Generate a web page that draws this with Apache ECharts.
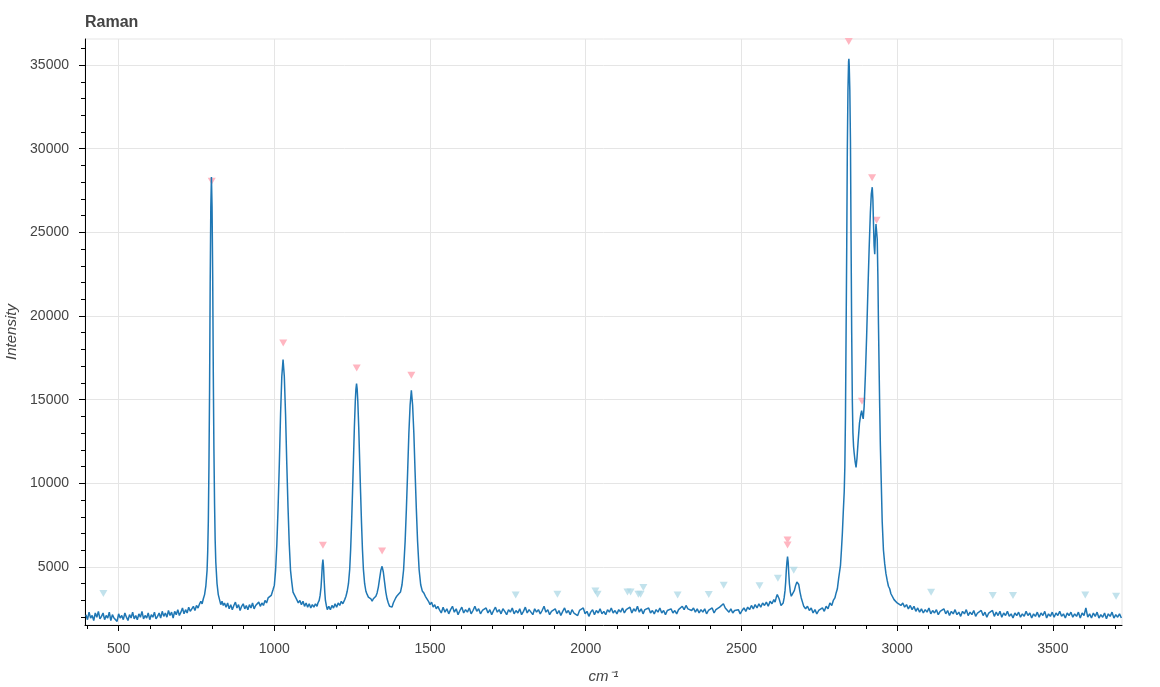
<!DOCTYPE html>
<html>
<head>
<meta charset="utf-8">
<script src="https://cdn.jsdelivr.net/npm/echarts@6/dist/echarts.min.js"></script>
<style>
html,body{margin:0;padding:0;background:#fff;}
#chart{width:1160px;height:687px;}
</style>
</head>
<body>
<div id="chart"></div>
<script>
// ---- Spectrum (wavenumber cm-1, intensity) ----
const baseline395to760 = [[395,2150],[400,1850],[405,2300],[410,1950],[415,2100],[420,1800],[425,2250],[430,2000],[435,2350],[440,1900],[445,2050],[450,2250],[455,1850],[460,2100],[465,1950],[470,2300],[475,1800],[480,2150],[485,1950],[490,2050],[495,1750],[500,2200],[505,1950],[510,2100],[515,1850],[520,2250],[525,2000],[530,1800],[535,2150],[540,1950],[545,2300],[550,1900],[555,2100],[560,1850],[565,2200],[570,2000],[575,2350],[580,1900],[585,2100],[590,1950],[595,2250],[600,1850],[605,2150],[610,2000],[615,2300],[620,1900],[625,2050],[630,2250],[635,1950],[640,2350],[645,2050],[650,2250],[655,2000],[660,2400],[665,2100],[670,2300],[675,1950],[680,2350],[685,2150],[690,2450],[695,2100],[700,2300],[705,2550],[710,2200],[715,2450],[720,2250],[725,2600],[730,2350],[735,2500],[740,2650],[745,2400],[750,2700],[755,2550],[760,2800]];
const peak800 = [[764,2950],[768,2800],[772,3100],[776,3350],[780,3850],[784,4800],[786,5900],[788,7700],[790,11000],[792,15500],[794,22000],[796,26500],[798,28300],[800,26500],[802,22500],[804,16500],[806,12000],[808,8800],[810,6600],[812,5300],[816,4000],[820,3350],[824,3050],[828,2750],[832,2950],[836,2700],[840,2850]];
const baseline845to990 = [[845,2600],[850,2850],[855,2500],[860,2750],[865,2450],[870,2700],[875,2900],[880,2550],[885,2750],[890,2400],[895,2650],[900,2800],[905,2500],[910,2700],[915,2450],[920,2750],[925,2550],[930,2850],[935,2500],[940,2700],[945,2600],[950,2900],[955,2650],[960,2850],[965,2700],[970,3000],[975,2850],[980,3150],[985,3050],[990,3300]];
const peak1028 = [[992,3300],[996,3650],[1000,3900],[1004,4800],[1008,6330],[1012,8520],[1016,11150],[1020,14140],[1024,16400],[1028,17400],[1032,16400],[1036,14140],[1040,11150],[1044,8520],[1048,6330],[1052,4800],[1056,4100],[1060,3500],[1064,3450],[1068,3200]];
const baseline1072to1137 = [[1072,3050],[1077,2850],[1082,3000],[1087,2750],[1092,2950],[1097,2650],[1102,2850],[1107,2600],[1112,2800],[1117,2550],[1122,2750],[1127,2600],[1132,2800],[1137,2650]];
const peak1156 = [[1140,2850],[1144,3000],[1147,3300],[1150,3800],[1152,4400],[1154,5100],[1156,5440],[1158,5000],[1160,4200],[1162,3500],[1164,3000],[1167,2700],[1170,2450]];
const baseline1175to1226 = [[1175,2650],[1180,2450],[1185,2700],[1190,2550],[1195,2800],[1200,2600],[1205,2850],[1210,2700],[1215,2950],[1220,2800],[1226,3050]];
const peak1264 = [[1230,3250],[1234,3550],[1238,4000],[1242,4860],[1245,6030],[1248,7600],[1251,9430],[1254,11350],[1257,13350],[1260,14920],[1262,15630],[1264,15960],[1266,15630],[1268,14920],[1271,13350],[1274,11350],[1277,9430],[1280,7600],[1283,6030],[1286,4860],[1290,4000],[1294,3550],[1298,3360],[1302,3200],[1306,3100],[1310,3100]];
const peak1346 = [[1314,2950],[1318,3100],[1322,3000],[1326,3250],[1330,3450],[1334,3800],[1338,4300],[1342,4800],[1346,5040],[1350,4700],[1354,4100],[1358,3500],[1362,3100],[1366,2850],[1370,2650],[1374,2750],[1378,2600],[1382,2850],[1386,2950]];
const peak1440 = [[1390,3160],[1395,3300],[1400,3380],[1405,3500],[1410,3940],[1415,4820],[1420,6520],[1424,8460],[1428,10660],[1432,12990],[1436,14680],[1440,15560],[1444,14680],[1448,12990],[1452,10660],[1456,8460],[1460,6520],[1465,4820],[1470,3940],[1475,3570],[1480,3450],[1485,3250],[1490,3100]];
const baseline1495to2100 = [[1495,2950],[1500,2750],[1505,2900],[1510,2600],[1515,2750],[1520,2500],[1525,2650],[1530,2450],[1536,2250],[1542,2600],[1548,2300],[1554,2500],[1560,2200],[1566,2450],[1572,2650],[1578,2300],[1584,2500],[1590,2150],[1596,2400],[1602,2600],[1608,2250],[1614,2450],[1620,2300],[1626,2550],[1632,2200],[1638,2400],[1644,2650],[1650,2350],[1656,2500],[1662,2200],[1668,2400],[1674,2300],[1680,2550],[1686,2250],[1692,2450],[1698,2150],[1704,2400],[1710,2600],[1716,2300],[1722,2450],[1728,2200],[1734,2500],[1740,2350],[1746,2150],[1752,2450],[1758,2300],[1764,2550],[1770,2200],[1776,2400],[1782,2250],[1788,2500],[1794,2150],[1800,2350],[1806,2600],[1812,2250],[1818,2450],[1824,2300],[1830,2150],[1836,2500],[1842,2300],[1848,2450],[1854,2200],[1860,2400],[1866,2650],[1872,2300],[1878,2450],[1884,2150],[1890,2350],[1896,2250],[1902,2500],[1908,2200],[1914,2400],[1920,2100],[1926,2350],[1932,2550],[1938,2250],[1944,2400],[1950,2150],[1956,2450],[1962,2250],[1968,2350],[1974,2100],[1980,2400],[1986,2300],[1992,2550],[1998,2200],[2004,2350],[2010,2050],[2016,2300],[2022,2450],[2028,2150],[2034,2400],[2040,2250],[2046,2500],[2052,2200],[2058,2350],[2064,2150],[2070,2450],[2076,2300],[2082,2550],[2088,2250],[2094,2400],[2100,2200]];
const baseline2106to2604 = [[2106,2450],[2112,2300],[2118,2550],[2124,2250],[2130,2450],[2136,2350],[2142,2600],[2148,2250],[2154,2500],[2160,2350],[2166,2650],[2172,2300],[2178,2500],[2184,2200],[2190,2450],[2196,2350],[2202,2550],[2208,2250],[2214,2400],[2220,2200],[2226,2450],[2232,2300],[2238,2550],[2244,2250],[2250,2400],[2256,2150],[2262,2400],[2268,2300],[2274,2500],[2280,2250],[2286,2400],[2292,2200],[2298,2450],[2304,2350],[2310,2650],[2316,2450],[2322,2700],[2328,2500],[2334,2600],[2340,2400],[2346,2550],[2352,2300],[2358,2500],[2364,2250],[2370,2450],[2376,2300],[2382,2500],[2388,2200],[2394,2400],[2400,2300],[2406,2550],[2412,2250],[2418,2450],[2424,2350],[2430,2600],[2436,2500],[2442,2800],[2448,2550],[2454,2450],[2460,2300],[2466,2500],[2472,2250],[2478,2400],[2484,2300],[2490,2450],[2496,2200],[2502,2400],[2508,2550],[2514,2350],[2520,2600],[2526,2450],[2532,2700],[2538,2500],[2544,2750],[2550,2550],[2556,2800],[2562,2600],[2568,2850],[2574,2700],[2580,2900],[2586,2650],[2592,2950],[2598,2800],[2604,3050]];
const peaks2648 = [[2608,2900],[2612,3200],[2615,3350],[2618,3400],[2621,3100],[2624,2900],[2627,2700],[2631,2600],[2634,2850],[2637,3150],[2640,3600],[2642,4100],[2644,4800],[2646,5300],[2648,5620],[2650,5300],[2652,4600],[2654,4000],[2657,3500],[2660,3250],[2663,3150],[2666,3350],[2670,3600],[2674,3900],[2678,4100],[2681,4200],[2684,3950],[2688,3500],[2692,3150],[2696,2900],[2700,2650],[2706,2500],[2712,2650],[2718,2400],[2724,2550],[2730,2250],[2736,2450],[2742,2200],[2748,2400],[2754,2300],[2760,2550],[2766,2350],[2772,2650],[2778,2500],[2784,2850],[2790,2700],[2795,3000]];
const peaksCH = [[2800,3150],[2804,3450],[2808,3700],[2812,4300],[2815,4700],[2818,5100],[2821,6000],[2824,7000],[2827,8300],[2830,9500],[2832,11000],[2834,14000],[2836,19000],[2838,24000],[2840,30000],[2842,33500],[2844,35200],[2845,35370],[2846,35000],[2848,33500],[2850,30500],[2852,24500],[2854,19000],[2856,15000],[2858,13000],[2860,12200],[2862,11800],[2865,11300],[2868,10950],[2871,11500],[2875,12600],[2879,13600],[2883,14100],[2886,14350],[2889,14000],[2891,13850],[2894,14600],[2898,16500],[2902,18800],[2906,21500],[2910,24000],[2914,26200],[2917,27300],[2920,27700],[2922,27000],[2924,25500],[2926,24200],[2928,23700],[2930,24800],[2932,25500],[2934,25600],[2936,24600],[2938,22500],[2940,19500],[2942,16900],[2944,14500],[2946,12300],[2949,10000],[2952,7700],[2956,6000],[2960,5200],[2964,4600],[2968,4200],[2972,3850],[2976,3700],[2980,3400],[2985,3300],[2990,3050],[2995,3100],[3000,2850]];
const baseline3006to3720 = [[3006,2950],[3012,2700],[3018,2850],[3024,2600],[3030,2750],[3036,2500],[3042,2700],[3048,2450],[3054,2650],[3060,2350],[3066,2550],[3072,2300],[3078,2500],[3084,2250],[3090,2450],[3096,2300],[3102,2550],[3108,2200],[3114,2400],[3120,2250],[3126,2450],[3132,2150],[3138,2350],[3144,2250],[3150,2500],[3156,2200],[3162,2400],[3168,2100],[3174,2350],[3180,2200],[3186,2450],[3192,2150],[3198,2300],[3204,2050],[3210,2350],[3216,2200],[3222,2450],[3228,2100],[3234,2300],[3240,2150],[3246,2400],[3252,2050],[3258,2250],[3264,2150],[3270,2400],[3276,2100],[3282,2300],[3288,2000],[3294,2250],[3300,2150],[3306,2400],[3312,2050],[3318,2300],[3324,2100],[3330,2350],[3336,2000],[3342,2250],[3348,2100],[3354,2350],[3360,2050],[3366,2200],[3372,1950],[3378,2250],[3384,2100],[3390,2300],[3396,2000],[3402,2200],[3408,2050],[3414,2350],[3420,2100],[3426,2250],[3432,1950],[3438,2200],[3444,2050],[3450,2300],[3456,2000],[3462,2250],[3468,2100],[3474,2350],[3480,1950],[3486,2200],[3492,2050],[3498,2300],[3504,2000],[3510,2250],[3516,2100],[3522,2350],[3528,2050],[3534,2200],[3540,1950],[3546,2250],[3552,2100],[3558,2300],[3564,2000],[3570,2200],[3576,2050],[3582,2300],[3588,1950],[3594,2250],[3600,2100],[3606,2550],[3612,2000],[3618,2200],[3624,1950],[3630,2250],[3636,2050],[3642,2300],[3648,1950],[3654,2150],[3660,2000],[3666,2250],[3672,1900],[3678,2200],[3684,2050],[3690,2300],[3696,1950],[3702,2150],[3708,2000],[3714,2200],[3720,1950]];

// ---- Marked peaks (pink) and other candidates (light blue) ----
const detectedPeaks = [[799,28050],[1028.6,18390],[1156,6300],[1264.5,16900],[1346,5960],[1440,16460],[2648,6620],[2648,6310],[2844.6,36410],[2887,14900],[2919.5,28270],[2934,25720]];
const candidatePeaks = [[451,3410],[1775,3326],[1909,3368],[2031,3565],[2038,3368],[2134,3506],[2144,3506],[2169,3368],[2176,3368],[2185,3769],[2295,3326],[2395,3360],[2443,3910],[2558,3880],[2617,4320],[2668,4810],[3109,3488],[3307,3290],[3372,3290],[3604,3326],[3703,3249]];

// ---- Tick labels ----
const xMajorTicks = [500,1000,1500,2000,2500,3000,3500];
const xMinorTicks = [400,500,600,700,800,900,1000,1100,1200,1300,1400,1500,1600,1700,1800,1900,2000,2100,2200,2300,2400,2500,2600,2700,2800,2900,3000,3100,3200,3300,3400,3500,3600,3700];
const yMajorTicks = [5000,10000,15000,20000,25000,30000,35000];
const yMinorTicks = [2000,3000,4000,5000,6000,7000,8000,9000,10000,11000,12000,13000,14000,15000,16000,17000,18000,19000,20000,21000,22000,23000,24000,25000,26000,27000,28000,29000,30000,31000,32000,33000,34000,35000,36000];

const spectrum = [].concat(baseline395to760, peak800, baseline845to990, peak1028, baseline1072to1137, peak1156, baseline1175to1226, peak1264, peak1346, peak1440, baseline1495to2100, baseline2106to2604, peaks2648, peaksCH, baseline3006to3720);

const FONT = '"Liberation Sans", Helvetica, Arial, sans-serif';
const X_MIN = 392, X_MAX = 3722, Y_MIN = 1533, Y_MAX = 36556;

const chart = echarts.init(document.getElementById('chart'), null, {renderer: 'canvas'});
chart.setOption({
  animation: false,
  backgroundColor: '#ffffff',
  title: {
    text: 'Raman', left: 85, top: 15, padding: 0,
    textStyle: {fontFamily: FONT, fontSize: 16, fontWeight: 'bold', color: '#444444'}
  },
  grid: {left: 85, right: 38, top: 39, bottom: 62, containLabel: false, outerBoundsMode: 'none',
         show: true, borderColor: '#e5e5e5', borderWidth: 1},
  xAxis: [
    {
      type: 'value', min: X_MIN, max: X_MAX, position: 'bottom',
      name: 'cm\u207B\u00B9', nameLocation: 'middle', nameGap: 44,
      nameTextStyle: {fontFamily: FONT, fontSize: 15, fontStyle: 'italic', color: '#444444'},
      axisLine: {show: true, lineStyle: {color: '#000000', width: 1}},
      axisTick: {show: true, customValues: xMinorTicks, length: 4, lineStyle: {color: '#000000', width: 1}},
      axisLabel: {show: true, customValues: xMajorTicks, margin: 17, fontFamily: FONT, fontSize: 14, color: '#444444', formatter: v => String(v)},
      splitLine: {show: false}
    },
    {
      type: 'value', min: X_MIN, max: X_MAX, position: 'bottom',
      axisLine: {show: false},
      axisTick: {show: true, customValues: xMajorTicks, length: 6, lineStyle: {color: '#000000', width: 1}},
      axisLabel: {show: false},
      splitLine: {show: true, lineStyle: {color: '#e5e5e5', width: 1}}
    }
  ],
  yAxis: [
    {
      type: 'value', min: Y_MIN, max: Y_MAX, position: 'left',
      name: 'Intensity', nameLocation: 'middle', nameGap: 62,
      nameTextStyle: {fontFamily: FONT, fontSize: 15, fontStyle: 'italic', color: '#444444'},
      axisLine: {show: true, lineStyle: {color: '#000000', width: 1}},
      axisTick: {show: true, customValues: yMinorTicks, length: 4, lineStyle: {color: '#000000', width: 1}},
      axisLabel: {show: true, customValues: yMajorTicks, margin: 16, fontFamily: FONT, fontSize: 14, color: '#444444', formatter: v => String(v)},
      splitLine: {show: false}
    },
    {
      type: 'value', min: Y_MIN, max: Y_MAX, position: 'left',
      axisLine: {show: false},
      axisTick: {show: true, customValues: yMajorTicks, length: 6, lineStyle: {color: '#000000', width: 1}},
      axisLabel: {show: false},
      splitLine: {show: true, lineStyle: {color: '#e5e5e5', width: 1}}
    }
  ],
  series: [
    {
      name: 'candidates', type: 'scatter', xAxisIndex: 0, yAxisIndex: 0,
      data: candidatePeaks, symbol: 'triangle', symbolRotate: 180, symbolSize: [8, 7],
      itemStyle: {color: '#add8e6', opacity: 0.75}, z: 2
    },
    {
      name: 'peaks', type: 'scatter', xAxisIndex: 0, yAxisIndex: 0,
      data: detectedPeaks, symbol: 'triangle', symbolRotate: 180, symbolSize: [8, 7],
      itemStyle: {color: '#ffb6c1', opacity: 1}, z: 2
    },
    {
      name: 'Raman', type: 'line', xAxisIndex: 0, yAxisIndex: 0,
      data: spectrum, showSymbol: false, symbol: 'none',
      lineStyle: {color: '#1f77b4', width: 1.5}, z: 3
    }
  ]
});
</script>
</body>
</html>
